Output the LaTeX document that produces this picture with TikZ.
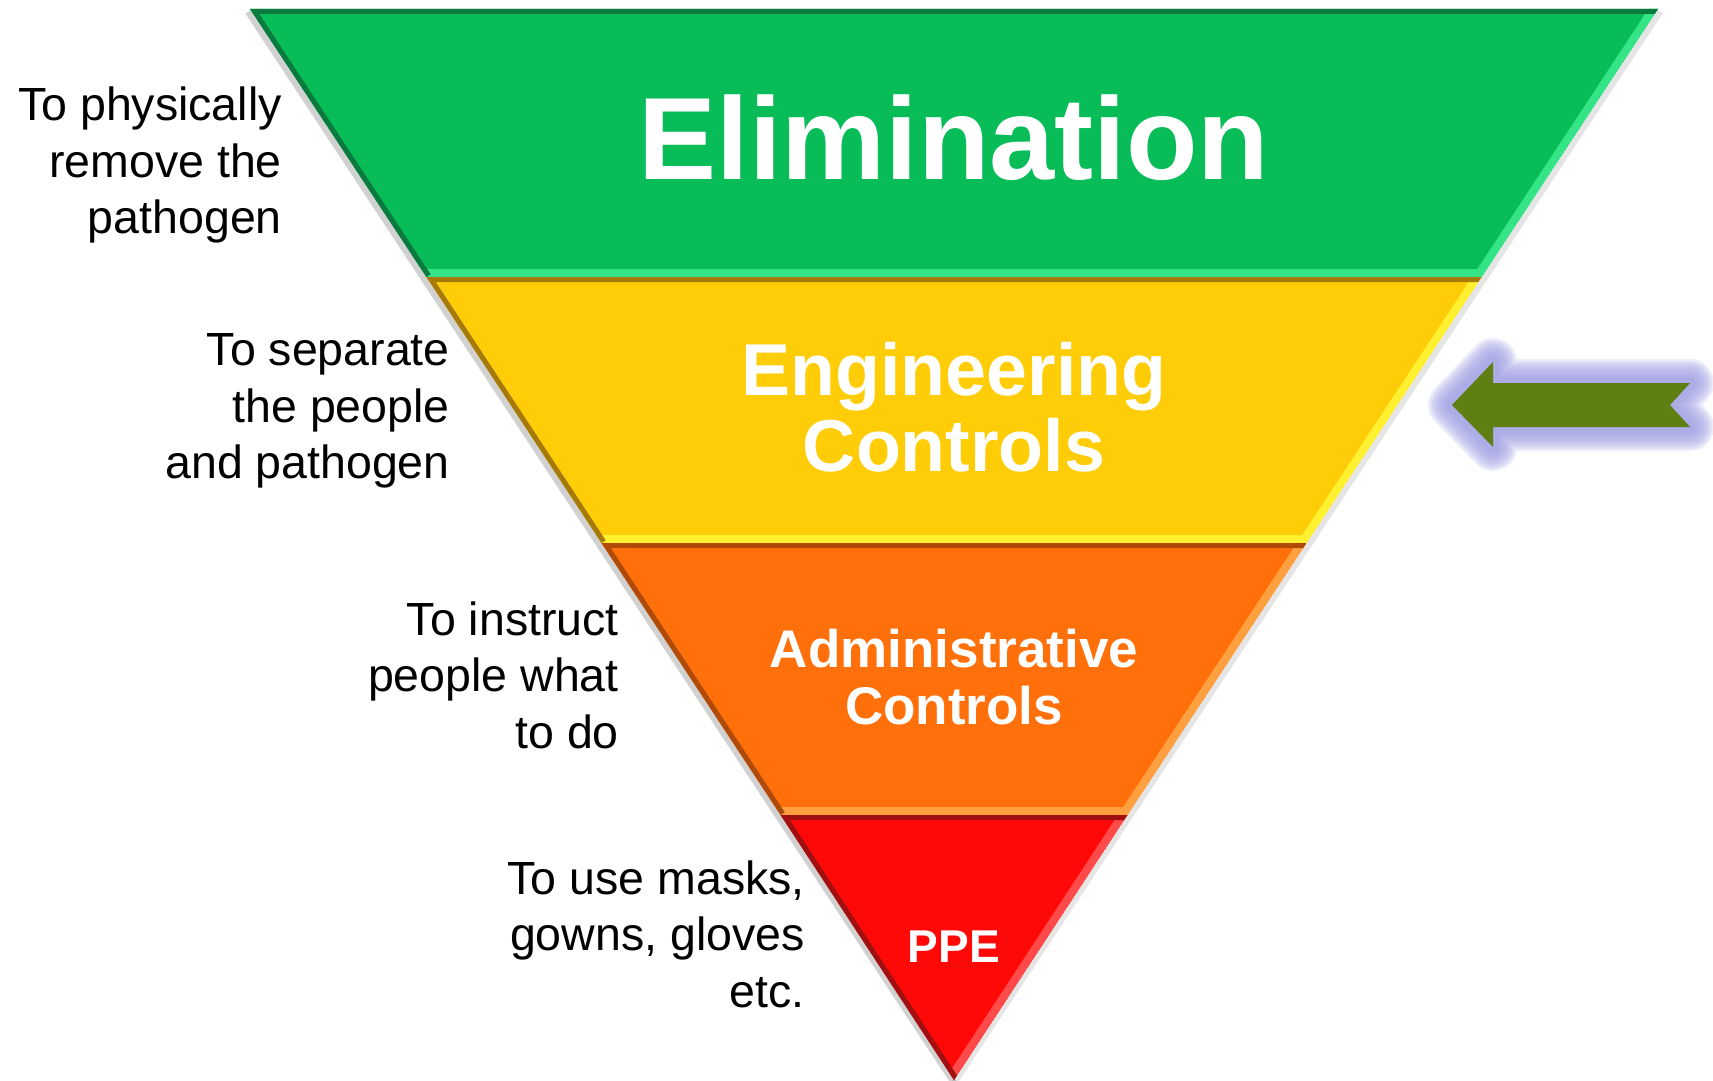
\documentclass[tikz,border=0pt]{standalone}
\usepackage{fontspec}
\setmainfont{Liberation Sans}
\definecolor{cGreen}{HTML}{08BC58}
\definecolor{cGreenHi}{HTML}{34E486}
\definecolor{cGreenDk}{HTML}{0A7A3E}
\definecolor{cYellow}{HTML}{FFCC08}
\definecolor{cYellowHi}{HTML}{FFF030}
\definecolor{cYellowDk}{HTML}{A67A0A}
\definecolor{cOrange}{HTML}{FF6F0A}
\definecolor{cOrangeHi}{HTML}{FFA040}
\definecolor{cOrangeDk}{HTML}{B04A08}
\definecolor{cRed}{HTML}{FF0808}
\definecolor{cRedHi}{HTML}{FF4A4A}
\definecolor{cRedDk}{HTML}{A01010}
\definecolor{cArrow}{HTML}{5E7F12}
\definecolor{cGlow}{HTML}{A4A4E6}
\begin{document}
\begin{tikzpicture}[x=1pt,y=-1pt,
  bandtitle/.style={text=white, font=\bfseries, align=center, inner sep=0pt},
  sidenote/.style={text=black, anchor=east, align=right, inner sep=0pt,
    font=\fontsize{46.5}{56.5}\selectfont},
  hi/.style={line width=16pt, line join=miter},
  dk/.style={line width=10pt, line join=miter}]
\useasboundingbox[fill=white] (0,0) rectangle (1713,1081);
\coordinate (t0l) at (250,9);
\coordinate (t0r) at (1658,9);
\coordinate (t1l) at (426.4,277);
\coordinate (t1r) at (1481.6,277);
\coordinate (t2l) at (601.5,543);
\coordinate (t2r) at (1306.5,543);
\coordinate (t3l) at (780.6,815);
\coordinate (t3r) at (1127.4,815);
\coordinate (apex) at (954,1080);
% soft outer shadow
\draw[black, opacity=.18, line width=6pt, line join=round] ([shift={(-2,3)}]t0l) -- ([shift={(0,3)}]apex);
\draw[black, opacity=.10, line width=6pt, line join=round] ([shift={(2,3)}]t0r) -- ([shift={(0,3)}]apex);
% green band
\begin{scope}
  \clip (t0l)--(t0r)--(t1r)--(t1l)--cycle;
  \fill[cGreen] (t0l)--(t0r)--(t1r)--(t1l)--cycle;
  \draw[hi, cGreenHi] (t1l)--(t1r)--(t0r);
  \draw[dk, cGreenDk] (t1l)--(t0l)--(t0r);
\end{scope}
% yellow band
\begin{scope}
  \clip (t1l)--(t1r)--(t2r)--(t2l)--cycle;
  \fill[cYellow] (t1l)--(t1r)--(t2r)--(t2l)--cycle;
  \draw[hi, cYellowHi] (t2l)--(t2r)--(t1r);
  \draw[dk, cYellowDk] (t2l)--(t1l)--(t1r);
\end{scope}
% orange band
\begin{scope}
  \clip (t2l)--(t2r)--(t3r)--(t3l)--cycle;
  \fill[cOrange] (t2l)--(t2r)--(t3r)--(t3l)--cycle;
  \draw[hi, cOrangeHi] (t3l)--(t3r)--(t2r);
  \draw[dk, cOrangeDk] (t3l)--(t2l)--(t2r);
\end{scope}
% red band
\begin{scope}
  \clip (t3l)--(t3r)--(apex)--cycle;
  \fill[cRed] (t3l)--(t3r)--(apex)--cycle;
  \draw[hi, cRedHi] (apex)--(t3r);
  \draw[dk, cRedDk] (apex)--(t3l)--(t3r);
\end{scope}
% titles
\node[bandtitle, font=\fontsize{117}{130}\selectfont\bfseries] (elim) at (954,138) {Elimination};
\node[bandtitle, font=\fontsize{73.5}{76.5}\selectfont\bfseries] (eng) at (954,407) {Engineering\\Controls};
\node[bandtitle, font=\fontsize{53}{56.5}\selectfont\bfseries] (adm) at (954,677) {Administrative\\Controls};
\node[bandtitle, font=\fontsize{46}{50}\selectfont\bfseries] (ppe) at (954,947) {PPE};
% side notes
\node[sidenote] (n1) at (282,165) {To physically\\remove the\\pathogen};
\node[sidenote] (n2) at (450,411) {To separate\\the people\\and pathogen};
\node[sidenote] (n3) at (619,675) {To instruct\\people what\\to do};
\node[sidenote] (n4) at (805,934) {To use masks,\\gowns, gloves\\etc.};
% arrow with glow
\foreach \w in {48,44,40,36,32,28,24,20,16,12,8}{
  \draw[cGlow, opacity=.18, line width=\w pt, line join=round]
    (1452,405)--(1493,362)--(1493,383)--(1690,383)--(1670,405)--(1690,427)--(1493,427)--(1493,447)--cycle;
}
\fill[cGlow] (1452,405)--(1493,362)--(1493,383)--(1690,383)--(1670,405)--(1690,427)--(1493,427)--(1493,447)--cycle;
\fill[cArrow] (1452,405)--(1493,362)--(1493,383)--(1690,383)--(1670,405)--(1690,427)--(1493,427)--(1493,447)--cycle;
\end{tikzpicture}
\end{document}
